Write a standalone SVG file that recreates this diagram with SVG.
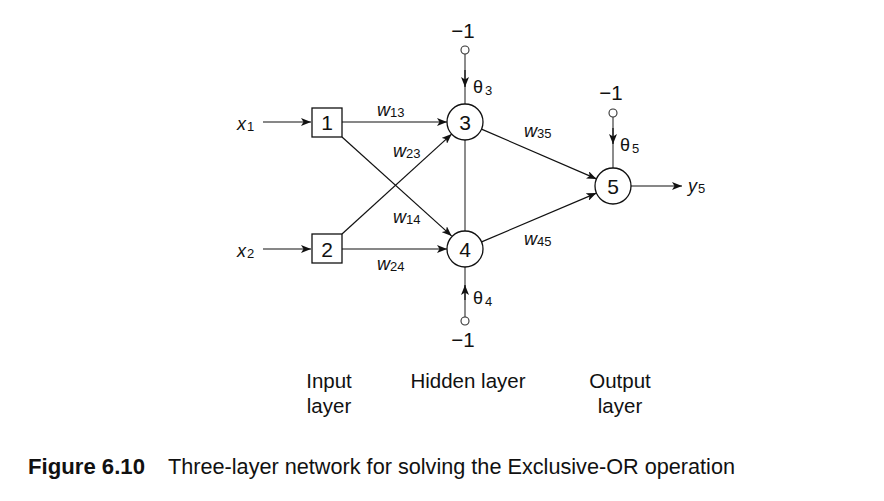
<svg xmlns="http://www.w3.org/2000/svg" width="884" height="501" viewBox="0 0 884 501">
<defs>
<marker id="ah" viewBox="0 0 10 8" refX="10" refY="4" markerWidth="10" markerHeight="8" markerUnits="userSpaceOnUse" orient="auto">
<path d="M0,0 L10,4 L0,8 L2.5,4 z" fill="#111"/>
</marker>
<style>
.t{font-family:"Liberation Sans","DejaVu Sans",sans-serif;fill:#111}
.lab{font-size:18px}
.big{font-size:20.5px}
.it{font-style:italic}
.sub{font-size:13px}
.num{font-size:21px;text-anchor:middle}
.ln{stroke:#111;stroke-width:1.2;fill:none}
.gr{stroke:#666;stroke-width:1.5;fill:none}
.nd{stroke:#111;stroke-width:1.3;fill:#fff}
.bc{stroke:#333;stroke-width:1.1;fill:#fff}
</style>
</defs>
<rect width="884" height="501" fill="#fff"/>

<g id="connectors">
<line class="ln" x1="263" y1="122" x2="311" y2="122" marker-end="url(#ah)"/>
<line class="ln" x1="263" y1="249" x2="311" y2="249" marker-end="url(#ah)"/>
<line class="ln" x1="342" y1="122" x2="447" y2="122" marker-end="url(#ah)"/>
<line class="ln" x1="342" y1="249" x2="447" y2="249" marker-end="url(#ah)"/>
<line class="ln" x1="342" y1="137" x2="451.6" y2="235.9" marker-end="url(#ah)"/>
<line class="ln" x1="342" y1="234" x2="451.7" y2="134.1" marker-end="url(#ah)"/>
<line class="gr" x1="465" y1="140" x2="465" y2="231"/>
<line class="ln" x1="481.5" y1="129.1" x2="596.5" y2="178.9" marker-end="url(#ah)"/>
<line class="ln" x1="481.6" y1="241.9" x2="596.4" y2="193.1" marker-end="url(#ah)"/>
<line class="ln" x1="631" y1="186" x2="682" y2="186" marker-end="url(#ah)"/>
<line class="gr" x1="465" y1="54" x2="465" y2="104"/>
<line class="ln" x1="465" y1="70" x2="465" y2="87" marker-end="url(#ah)"/>
<line class="gr" x1="465" y1="317" x2="465" y2="267"/>
<line class="ln" x1="465" y1="300" x2="465" y2="285" marker-end="url(#ah)"/>
<line class="gr" x1="613" y1="117" x2="613" y2="168"/>
<line class="ln" x1="613" y1="128" x2="613" y2="144" marker-end="url(#ah)"/>
</g>

<g id="node1"><rect class="nd" x="312" y="108" width="30" height="29"/><text class="t num" x="327" y="130">1</text></g>
<g id="node2"><rect class="nd" x="312" y="234" width="30" height="29"/><text class="t num" x="327" y="257">2</text></g>
<g id="node3"><circle class="nd" cx="465" cy="122" r="18"/><text class="t num" x="465" y="130">3</text></g>
<g id="node4"><circle class="nd" cx="465" cy="249" r="18"/><text class="t num" x="465" y="257">4</text></g>
<g id="node5"><circle class="nd" cx="613" cy="186" r="18"/><text class="t num" x="613" y="194">5</text></g>

<g id="bias3"><circle class="bc" cx="465" cy="50" r="4"/><text class="t big" x="463" y="38" text-anchor="middle">−1</text><text class="t lab" x="473" y="93" font-size="19">θ<tspan class="sub" dx="2" dy="2">3</tspan></text></g>
<g id="bias4"><circle class="bc" cx="465" cy="321" r="4"/><text class="t big" x="463" y="347" text-anchor="middle">−1</text><text class="t lab" x="473" y="304" font-size="19">θ<tspan class="sub" dx="2" dy="2">4</tspan></text></g>
<g id="bias5"><circle class="bc" cx="613" cy="113" r="4"/><text class="t big" x="611" y="100" text-anchor="middle">−1</text><text class="t lab" x="620" y="151" font-size="19">θ<tspan class="sub" dx="2" dy="2">5</tspan></text></g>

<g id="labels">
<text class="t lab it" x="237" y="130">x<tspan class="sub" font-style="normal" dx="1" dy="1">1</tspan></text>
<text class="t lab it" x="237" y="257">x<tspan class="sub" font-style="normal" dx="1" dy="1">2</tspan></text>
<text class="t lab it" x="688" y="192">y<tspan class="sub" font-style="normal" dx="1" dy="1">5</tspan></text>
<text class="t lab it" x="377" y="116">w<tspan class="sub" font-style="normal" dy="1">13</tspan></text>
<text class="t lab it" x="393" y="157">w<tspan class="sub" font-style="normal" dy="1">23</tspan></text>
<text class="t lab it" x="393" y="223">w<tspan class="sub" font-style="normal" dy="1">14</tspan></text>
<text class="t lab it" x="377" y="270">w<tspan class="sub" font-style="normal" dy="1">24</tspan></text>
<text class="t lab it" x="524" y="137">w<tspan class="sub" font-style="normal" dy="1">35</tspan></text>
<text class="t lab it" x="524" y="245">w<tspan class="sub" font-style="normal" dy="1">45</tspan></text>
</g>

<g id="layers">
<text class="t big" x="329" y="388" text-anchor="middle">Input</text>
<text class="t big" x="329" y="413" text-anchor="middle">layer</text>
<text class="t big" x="468" y="388" text-anchor="middle">Hidden layer</text>
<text class="t big" x="620" y="388" text-anchor="middle">Output</text>
<text class="t big" x="620" y="413" text-anchor="middle">layer</text>
</g>

<g id="caption">
<text class="t" x="28" y="474" font-size="22" font-weight="bold" textLength="117" lengthAdjust="spacingAndGlyphs">Figure 6.10</text>
<text class="t" x="168" y="474" font-size="22" textLength="567" lengthAdjust="spacingAndGlyphs">Three-layer network for solving the Exclusive-OR operation</text>
</g>
</svg>
